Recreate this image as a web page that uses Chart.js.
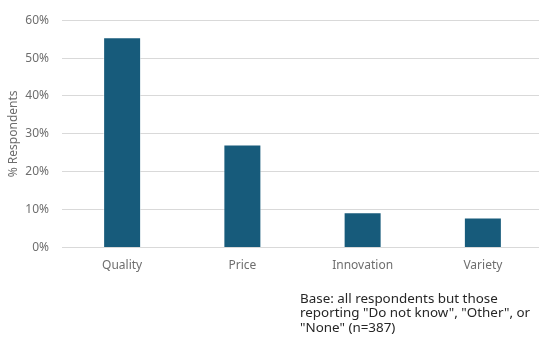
<!DOCTYPE html>
<html>
<head>
<meta charset="utf-8">
<script src="https://cdn.jsdelivr.net/npm/chart.js@4.4.1/dist/chart.umd.min.js"></script>
<style>
  html, body { margin: 0; padding: 0; background: #fff; overflow: hidden; }
  #wrap { position: relative; width: 539px; height: 345px; overflow: hidden; }
  #chart { display: block; }
  #note {
    position: absolute; left: 300px; top: 291px;
    font: 13.4px "Noto Sans", "Open Sans", sans-serif;
    line-height: 14.3px; color: #262626; width: 238px; white-space: nowrap;
  }
</style>
</head>
<body>
<div id="wrap">
  <canvas id="chart" width="546" height="345"></canvas>
  <div id="note">Base: all respondents but those<br>reporting "Do not know", "Other", or<br>"None" (n=387)</div>
</div>
<script>
const categories = ["Quality", "Price", "Innovation", "Variety"];
const respondents = [55.5, 27.2, 9.3, 7.9];
const yTicks = [0, 10, 20, 30, 40, 50, 60];

const tickGrey = "#6e6e6e";
const gridGrey = "#d9d9d9";
const labelFont = { family: "Noto Sans", size: 12 };

new Chart(document.getElementById("chart"), {
  type: "bar",
  data: {
    labels: categories,
    datasets: [{
      data: respondents,
      backgroundColor: "#175b7b",
      borderColor: "rgba(255,255,255,0.5)",
      borderWidth: 1,
      barPercentage: 0.316,
      categoryPercentage: 1
    }]
  },
  options: {
    responsive: false,
    animation: false,
    layout: { padding: { top: 15, right: 3, bottom: 0, left: 0 } },
    plugins: { legend: { display: false }, tooltip: { enabled: false } },
    scales: {
      x: {
        grid: { display: false, drawTicks: false },
        border: { display: true, color: gridGrey, width: 1 },
        ticks: { color: tickGrey, padding: 11, font: labelFont },
        afterFit(scale) { scale.height = 97.5; }
      },
      y: {
        min: 0,
        max: 60,
        afterBuildTicks(scale) { scale.ticks = yTicks.map(v => ({ value: v })); },
        grid: { color: gridGrey, lineWidth: 1, drawTicks: false },
        border: { display: false },
        ticks: {
          color: tickGrey,
          padding: 13,
          font: labelFont,
          callback: v => v + "%"
        },
        title: {
          display: true,
          text: "% Respondents",
          color: tickGrey,
          font: labelFont,
          padding: { top: 6, bottom: 0 }
        },
        afterFit(scale) { scale.width = 62; }
      }
    }
  }
});
</script>
</body>
</html>
